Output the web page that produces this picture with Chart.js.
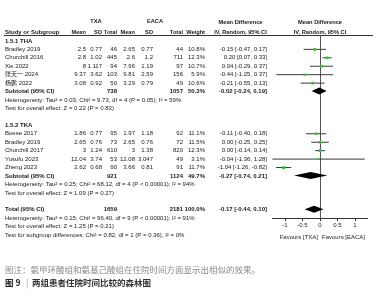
<!DOCTYPE html>
<html><head><meta charset="utf-8">
<script src="https://cdn.jsdelivr.net/npm/chart.js@4.4.0/dist/chart.umd.min.js"></script>
<style>html,body{margin:0;padding:0;background:#fff;}#wrap{width:378px;height:300px;position:relative;}</style>
</head><body><div id="wrap"><canvas id="c"></canvas></div>
<script>
// ---------- data ----------
const thaStudies = ["Bradley 2019", "Churchill 2016", "Xie 2022", "张天一 2024", "杨鹏 2022"];
const thaTxaMean = [2.5, 2.8, 8, 9.37, 3.08];
const thaTxaSD = [0.77, 1.02, 1.117, 3.62, 0.92];
const thaTxaN = [46, 445, 94, 103, 50];
const thaEacaMean = [2.65, 2.6, 7.96, 9.81, 3.29];
const thaEacaSD = [0.77, 1.2, 1.19, 2.59, 0.79];
const thaEacaN = [44, 711, 97, 156, 49];
const thaWeight = [10.8, 12.3, 10.7, 5.9, 10.6];
const thaMD = [-0.15, 0.20, 0.04, -0.44, -0.21];
const thaLo = [-0.47, 0.07, -0.29, -1.25, -0.55];
const thaHi = [0.17, 0.33, 0.37, 0.37, 0.13];
const thaSubtotal = { txaN: 738, eacaN: 1057, weight: 50.3, md: -0.02, lo: -0.24, hi: 0.19 };

const tkaStudies = ["Boese 2017", "Bradley 2019", "Churchill 2017", "Yusufu 2023", "Zheng 2023"];
const tkaTxaMean = [1.86, 2.65, 3, 12.04, 2.62];
const tkaTxaSD = [0.77, 0.76, 1.24, 3.74, 0.68];
const tkaTxaN = [95, 73, 610, 53, 90];
const tkaEacaMean = [1.97, 2.65, 3, 12.08, 3.66];
const tkaEacaSD = [1.18, 0.76, 1.38, 3.047, 0.81];
const tkaEacaN = [92, 72, 820, 49, 91];
const tkaWeight = [11.1, 11.5, 12.3, 3.1, 11.7];
const tkaMD = [-0.11, 0.00, 0.00, -0.04, -1.04];
const tkaLo = [-0.40, -0.25, -0.14, -1.36, -1.26];
const tkaHi = [0.18, 0.25, 0.14, 1.28, -0.82];
const tkaSubtotal = { txaN: 921, eacaN: 1124, weight: 49.7, md: -0.27, lo: -0.74, hi: 0.21 };

const overall = { txaN: 1659, eacaN: 2181, weight: 100.0, md: -0.17, lo: -0.44, hi: 0.10 };

const tickValues = [-1, -0.5, 0, 0.5, 1];
const tickLabels = ["-1", "-0.5", "0", "0.5", "1"];

const thaHet = "Heterogeneity: Tau² = 0.03; Chi² = 9.73, df = 4 (P = 0.05); I² = 59%";
const thaTest = "Test for overall effect: Z = 0.22 (P = 0.83)";
const tkaHet = "Heterogeneity: Tau² = 0.25; Chi² = 68.12, df = 4 (P < 0.00001); I² = 94%";
const tkaTest = "Test for overall effect: Z = 1.09 (P = 0.27)";
const totHet = "Heterogeneity: Tau² = 0.15; Chi² = 96.40, df = 9 (P < 0.00001); I² = 91%";
const totTest = "Test for overall effect: Z = 1.25 (P = 0.21)";
const subgroupTest = "Test for subgroup differences: Chi² = 0.82, df = 1 (P = 0.36), I² = 0%";

// ---------- layout ----------
const W = 378, H = 300;
const ROW0 = 29, ROWH = 8.6, AXIS_ROW = 22;
const axisPx = ROW0 + ROWH * AXIS_ROW;
const PLOT_L = 272, PLOT_R = 367, ZERO_PX = 320, UNIT_PX = 35;
const xMin = (PLOT_L - ZERO_PX) / UNIT_PX, xMax = (PLOT_R - ZERO_PX) / UNIT_PX;
const FONT = "'Liberation Sans', Arial, 'Noto Sans CJK SC', sans-serif";
const CJK = "'Noto Sans CJK SC', sans-serif";
const COL = { study: 5, m1: 86, s1: 102, n1: 117, m2: 135, s2: 153, n2: 183, w: 205, md: 267 };
const thaRows = [2, 3, 4, 5, 6], tkaRows = [12, 13, 14, 15, 16];
const ROWS = { thaHead: 1, thaSub: 7, thaHet: 8, thaTest: 9, tkaHead: 11, tkaSub: 17, tkaHet: 18, tkaTest: 19, tot: 21, totHet: 22, totTest: 23, sub: 24 };

const fmt = v => v.toFixed(2);
const ciText = (m, l, h) => `${fmt(m)} [${fmt(l)}, ${fmt(h)}]`;

// ---------- datasets ----------
const datasets = [];
function addCI(md, lo, hi, rows) {
  md.forEach((m, i) => {
    datasets.push({ type: 'line', data: [{ x: lo[i], y: rows[i] }, { x: hi[i], y: rows[i] }],
      borderColor: '#3a3a3a', borderWidth: 1, pointRadius: 0, showLine: true, order: 2 });
  });
}
addCI(thaMD, thaLo, thaHi, thaRows);
addCI(tkaMD, tkaLo, tkaHi, tkaRows);
const pts = [], radii = [];
thaMD.forEach((m, i) => { pts.push({ x: m, y: thaRows[i] }); radii.push(1.2 + thaWeight[i] * 0.06); });
tkaMD.forEach((m, i) => { pts.push({ x: m, y: tkaRows[i] }); radii.push(1.2 + tkaWeight[i] * 0.06); });
datasets.push({ type: 'scatter', data: pts, pointStyle: 'rect', pointRadius: radii,
  backgroundColor: '#22cc22', borderWidth: 0, order: 1 });

// ---------- plugin for table text, reference line, diamonds ----------
function txt(ctx, s, x, y, align, bold, color, size, fam) {
  ctx.font = (bold ? 'bold ' : '') + (size || 6) + 'px ' + (fam || FONT);
  ctx.textAlign = align || 'left'; ctx.textBaseline = 'middle';
  ctx.fillStyle = color || '#1a1a1a';
  ctx.fillText(s, x, y);
}
const forest = {
  id: 'forest',
  beforeDatasetsDraw(chart) {
    const { ctx, scales: { x, y }, chartArea } = chart;
    ctx.save();
    ctx.strokeStyle = '#333'; ctx.lineWidth = 1;
    const hy = Math.round(y.getPixelForValue(0) + 3) + 0.5;
    ctx.beginPath(); ctx.moveTo(4, hy); ctx.lineTo(373, hy); ctx.stroke();
    const x0 = Math.round(x.getPixelForValue(0)) + 0.5;
    ctx.strokeStyle = '#555';
    ctx.beginPath(); ctx.moveTo(x0, hy); ctx.lineTo(x0, chartArea.bottom); ctx.stroke();
    ctx.restore();
  },
  afterDatasetsDraw(chart) {
    const { ctx, scales: { x, y } } = chart;
    ctx.save(); ctx.fillStyle = '#000';
    [[thaSubtotal, ROWS.thaSub], [tkaSubtotal, ROWS.tkaSub], [overall, ROWS.tot]].forEach(([d, r]) => {
      const cy = y.getPixelForValue(r) - 0.5, hh = 3.5;
      ctx.beginPath();
      ctx.moveTo(x.getPixelForValue(d.lo), cy);
      ctx.lineTo(x.getPixelForValue(d.md), cy - hh);
      ctx.lineTo(x.getPixelForValue(d.hi), cy);
      ctx.lineTo(x.getPixelForValue(d.md), cy + hh);
      ctx.closePath(); ctx.fill();
    });
    ctx.restore();
  },
  afterDraw(chart) {
    const { ctx, scales: { x, y } } = chart;
    const Y = r => y.getPixelForValue(r);
    const HS = 5.7;
    ctx.save();
    // headers
    txt(ctx, 'TXA', 96, Y(-1.25), 'center', true, null, HS);
    txt(ctx, 'EACA', 155, Y(-1.25), 'center', true, null, HS);
    txt(ctx, 'Mean Difference', 240.5, Y(-1.15), 'center', true, null, HS);
    txt(ctx, 'Mean Difference', x.getPixelForValue(0), Y(-1.15), 'center', true, null, HS);
    txt(ctx, 'Study or Subgroup', COL.study, Y(0), 'left', true, null, 6);
    [['Mean', COL.m1], ['SD', COL.s1], ['Total', COL.n1], ['Mean', COL.m2], ['SD', COL.s2], ['Total', COL.n2], ['Weight', COL.w]]
      .forEach(([s, cx]) => txt(ctx, s, cx, Y(0), 'right', true, null, HS));
    txt(ctx, 'IV, Random, 95% CI', 240.5, Y(0), 'center', true, null, HS);
    txt(ctx, 'IV, Random, 95% CI', x.getPixelForValue(0), Y(0), 'center', true, null, HS);

    function group(names, m1, s1, n1, m2, s2, n2, w, md, lo, hi, rows) {
      names.forEach((nm, i) => {
        const yy = Y(rows[i]);
        txt(ctx, nm, COL.study, yy, 'left');
        txt(ctx, String(m1[i]), COL.m1, yy, 'right');
        txt(ctx, String(s1[i]), COL.s1, yy, 'right');
        txt(ctx, String(n1[i]), COL.n1, yy, 'right');
        txt(ctx, String(m2[i]), COL.m2, yy, 'right');
        txt(ctx, String(s2[i]), COL.s2, yy, 'right');
        txt(ctx, String(n2[i]), COL.n2, yy, 'right');
        txt(ctx, w[i].toFixed(1) + '%', COL.w, yy, 'right');
        txt(ctx, ciText(md[i], lo[i], hi[i]), COL.md, yy, 'right');
      });
    }
    function summary(label, d, r) {
      const yy = Y(r);
      txt(ctx, label, COL.study, yy, 'left', true);
      txt(ctx, String(d.txaN), COL.n1, yy, 'right', true);
      txt(ctx, String(d.eacaN), COL.n2, yy, 'right', true);
      txt(ctx, d.weight.toFixed(1) + '%', COL.w, yy, 'right', true);
      txt(ctx, ciText(d.md, d.lo, d.hi), COL.md, yy, 'right', true);
    }
    txt(ctx, '1.5.1 THA', COL.study, Y(ROWS.thaHead), 'left', true);
    group(thaStudies, thaTxaMean, thaTxaSD, thaTxaN, thaEacaMean, thaEacaSD, thaEacaN, thaWeight, thaMD, thaLo, thaHi, thaRows);
    summary('Subtotal (95% CI)', thaSubtotal, ROWS.thaSub);
    txt(ctx, thaHet, COL.study, Y(ROWS.thaHet));
    txt(ctx, thaTest, COL.study, Y(ROWS.thaTest));

    txt(ctx, '1.5.2 TKA', COL.study, Y(ROWS.tkaHead), 'left', true);
    group(tkaStudies, tkaTxaMean, tkaTxaSD, tkaTxaN, tkaEacaMean, tkaEacaSD, tkaEacaN, tkaWeight, tkaMD, tkaLo, tkaHi, tkaRows);
    summary('Subtotal (95% CI)', tkaSubtotal, ROWS.tkaSub);
    txt(ctx, tkaHet, COL.study, Y(ROWS.tkaHet));
    txt(ctx, tkaTest, COL.study, Y(ROWS.tkaTest));

    summary('Total (95% CI)', overall, ROWS.tot);
    txt(ctx, totHet, COL.study, Y(ROWS.totHet));
    txt(ctx, totTest, COL.study, Y(ROWS.totTest));
    txt(ctx, subgroupTest, COL.study, Y(ROWS.sub));

    // favours labels
    const x0 = x.getPixelForValue(0);
    txt(ctx, 'Favours [TXA]', x0 - 2, Y(ROWS.sub + 0.3), 'right');
    txt(ctx, 'Favours [EACA]', x0 + 2, Y(ROWS.sub + 0.3), 'left');

    // caption
    txt(ctx, '图注：氨甲环酸组和氨基己酸组在住院时间方面显示出相似的效果。', 5, 270, 'left', false, '#8a8a8a', 8.5, CJK);
    txt(ctx, '图 9', 5, 283, 'left', true, '#222', 8.5, CJK);
    txt(ctx, '|', 26, 283, 'left', false, '#999', 8.5, CJK);
    txt(ctx, '两组患者住院时间比较的森林图', 32, 283, 'left', true, '#333', 8.5, CJK);
    ctx.restore();
  }
};

new Chart(document.getElementById('c'), {
  type: 'scatter',
  data: { datasets },
  options: {
    responsive: true, maintainAspectRatio: false, animation: false,
    devicePixelRatio: 1,
    layout: { padding: { left: PLOT_L, right: W - PLOT_R, top: 0, bottom: 0 } },
    plugins: { legend: { display: false }, tooltip: { enabled: false } },
    scales: {
      x: {
        type: 'linear', min: xMin, max: xMax,
        afterBuildTicks: s => { s.ticks = tickValues.map(v => ({ value: v })); },
        afterFit: s => { s.height = H - axisPx; },
        ticks: { callback: (v) => tickLabels[tickValues.indexOf(v)], font: { size: 6, family: FONT },
          color: '#1a1a1a', padding: 1, maxRotation: 0, autoSkip: false },
        grid: { drawOnChartArea: false, drawTicks: true, tickLength: 3, tickColor: '#333' },
        border: { display: true, color: '#333', width: 1 }
      },
      y: { type: 'linear', display: false, reverse: true, min: -ROW0 / ROWH, max: AXIS_ROW }
    }
  },
  plugins: [forest]
});
</script></body></html>
